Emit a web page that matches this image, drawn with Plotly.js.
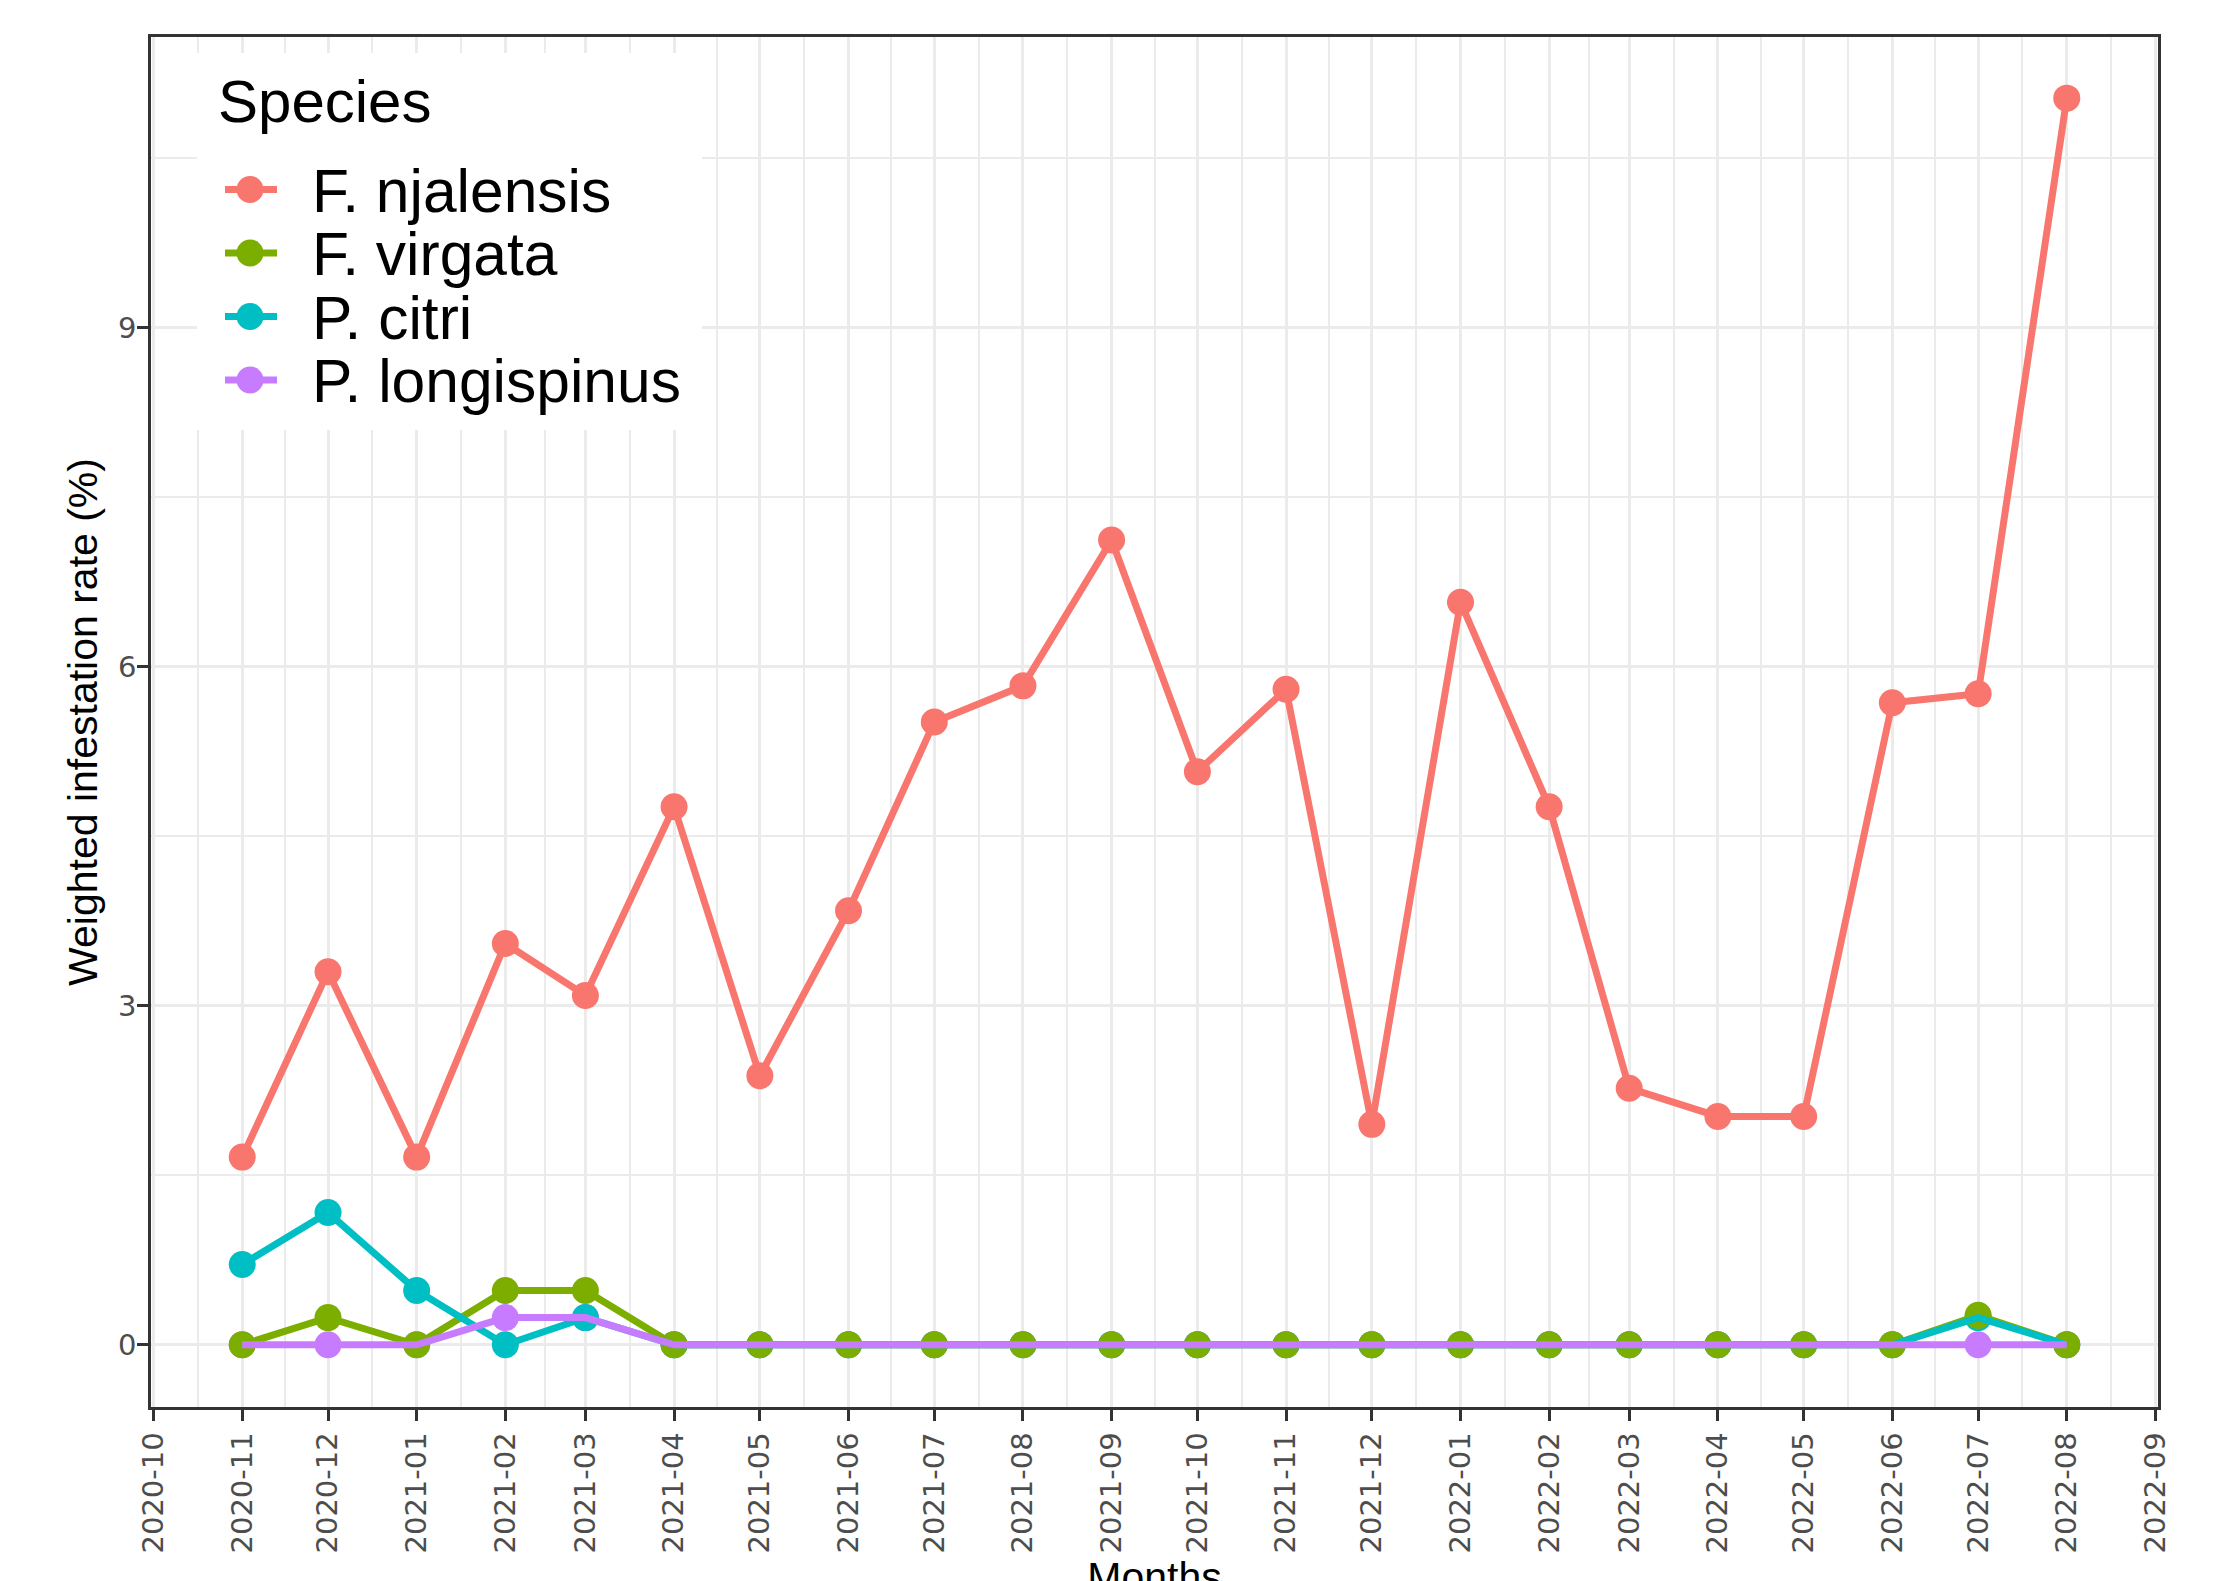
<!DOCTYPE html>
<html>
<head>
<meta charset="utf-8">
<script src="https://cdn.plot.ly/plotly-3.0.1.min.js"></script>
<style>
html, body { margin: 0; padding: 0; background: #ffffff; overflow: hidden; }
#frame { width: 2213px; height: 1581px; overflow: hidden; position: relative; }
#chart { width: 2213px; height: 1620px; }
</style>
</head>
<body>
<div id="frame"><div id="chart"></div></div>
<script>
// ---------------- data ----------------
const months = ['2020-11-01','2020-12-01','2021-01-01','2021-02-01','2021-03-01','2021-04-01',
  '2021-05-01','2021-06-01','2021-07-01','2021-08-01','2021-09-01','2021-10-01','2021-11-01',
  '2021-12-01','2022-01-01','2022-02-01','2022-03-01','2022-04-01','2022-05-01','2022-06-01',
  '2022-07-01','2022-08-01'];
const speciesNames = ['F. njalensis', 'F. virgata', 'P. citri', 'P. longispinus'];
const speciesColors = ['#F8766D', '#7CAE00', '#00BFC4', '#C77CFF'];
const njalensis   = [1.66, 3.30, 1.66, 3.55, 3.09, 4.76, 2.38, 3.84, 5.51, 5.83, 7.12, 5.07, 5.80,
                     1.95, 6.57, 4.76, 2.27, 2.02, 2.02, 5.68, 5.76, 11.03];
const virgata     = [0, 0.24, 0, 0.48, 0.48, 0, 0, 0, 0, 0, 0, 0, 0,
                     0, 0, 0, 0, 0, 0, 0, 0.26, 0];
const citri       = [0.71, 1.17, 0.48, 0, 0.24, 0, 0, 0, 0, 0, 0, 0, 0,
                     0, 0, 0, 0, 0, 0, 0, 0.24, 0];
const longispinus = [0, 0, 0, 0.24, 0.24, 0, 0, 0, 0, 0, 0, 0, 0,
                     0, 0, 0, 0, 0, 0, 0, 0, 0];
const yTickVals = [0, 3, 6, 9];
const yMinorVals = [1.5, 4.5, 7.5, 10.5];
const legendTitle = 'Species';
const xTitle = 'Months';
const yTitle = 'Weighted infestation rate (%)';

// ---------------- geometry ----------------
// figure is drawn slightly taller than the window so that the x-axis title sits at the bottom edge as in the original
const W = 2213, H = 1620;
const M = { l: 151, r: 55, t: 37, b: H - 1407 };
const PW = W - M.l - M.r, PH = H - M.t - M.b;
const px = v => (v - M.l) / PW;          // pixel x -> paper
const py = v => 1 - (v - M.t) / PH;      // pixel y -> paper

const FONT = "'Liberation Sans', Arial, Helvetica, sans-serif";
const TICKFONT = "'DejaVu Sans', Verdana, sans-serif";
const series = [njalensis, virgata, citri, longispinus];

// month grid (major at month starts, minor at midpoints)
const gridMonths = [];
for (let y = 2020, m = 9; !(y === 2022 && m === 9); ) {
  gridMonths.push(Date.UTC(y, m, 1));
  m++; if (m === 12) { m = 0; y++; }
}
gridMonths.push(Date.UTC(2022, 8, 1));
const fmt = t => new Date(t).toISOString().slice(0, 19).replace('T', ' ');
const xMinorVals = [];
for (let i = 0; i < gridMonths.length - 1; i++) xMinorVals.push(fmt((gridMonths[i] + gridMonths[i + 1]) / 2));

// ---------------- traces ----------------
const traces = [];
// markers first (virgata last so it sits on top of the other zero markers)
[0, 3, 2, 1].forEach(i => traces.push({
  type: 'scatter', mode: 'markers', x: months, y: series[i], name: speciesNames[i],
  marker: { color: speciesColors[i], size: 27, line: { width: 0 } },
  showlegend: false, hoverinfo: 'x+y+name'
}));
// lines above markers
[0, 1, 2, 3].forEach(i => traces.push({
  type: 'scatter', mode: 'lines', x: months, y: series[i], name: speciesNames[i],
  line: { color: speciesColors[i], width: 7 },
  showlegend: false, hoverinfo: 'skip'
}));

// ---------------- custom legend ----------------
const shapes = [{
  type: 'rect', xref: 'paper', yref: 'paper', layer: 'above',
  x0: px(197), x1: px(702), y0: py(53), y1: py(430),
  fillcolor: '#ffffff', line: { width: 0 }
}];
const annotations = [{
  xref: 'paper', yref: 'paper', x: px(216), y: py(101), xanchor: 'left', yanchor: 'middle',
  text: legendTitle, showarrow: false, font: { family: FONT, size: 60, color: '#000000' }
}];
speciesNames.forEach((name, i) => {
  const cy = 189.5 + i * 63.5;
  shapes.push({
    type: 'line', xref: 'paper', yref: 'paper', layer: 'above',
    x0: px(225), x1: px(277), y0: py(cy), y1: py(cy),
    line: { color: speciesColors[i], width: 7 }
  });
  shapes.push({
    type: 'circle', xref: 'paper', yref: 'paper', layer: 'above',
    x0: px(250 - 13.5), x1: px(250 + 13.5), y0: py(cy - 13.5), y1: py(cy + 13.5),
    fillcolor: speciesColors[i], line: { width: 0 }
  });
  annotations.push({
    xref: 'paper', yref: 'paper', x: px(310), y: py(cy + 1), xanchor: 'left', yanchor: 'middle',
    text: name, showarrow: false, font: { family: FONT, size: 60.5, color: '#000000' }
  });
});

// ---------------- layout ----------------
const layout = {
  width: W, height: H,
  margin: M,
  paper_bgcolor: '#ffffff', plot_bgcolor: '#ffffff',
  showlegend: false,
  font: { family: FONT, color: '#000000' },
  xaxis: {
    type: 'date',
    range: ['2020-09-30 02:24', '2022-09-01 21:36'],
    tick0: '2020-10-01', dtick: 'M1', tickformat: '%Y-%m',
    tickangle: -90,
    tickfont: { family: TICKFONT, size: 29, color: '#4D4D4D' },
    ticks: 'outside', ticklen: 11, tickwidth: 2.5, tickcolor: '#333333',
    showgrid: true, gridcolor: '#EBEBEB', gridwidth: 3,
    minor: { tickmode: 'array', tickvals: xMinorVals, showgrid: true, gridcolor: '#EBEBEB', gridwidth: 1.8, ticks: '' },
    showline: true, linecolor: '#333333', linewidth: 2.5, mirror: true,
    zeroline: false, automargin: false,
    title: { text: xTitle, font: { family: FONT, size: 41, color: '#000000' }, standoff: 2 }
  },
  yaxis: {
    range: [-0.551, 11.571],
    tickmode: 'array', tickvals: yTickVals,
    tickfont: { family: TICKFONT, size: 29, color: '#4D4D4D' },
    ticks: 'outside', ticklen: 11, tickwidth: 2.5, tickcolor: '#333333',
    ticklabelstandoff: -5,
    showgrid: true, gridcolor: '#EBEBEB', gridwidth: 3,
    minor: { tickmode: 'array', tickvals: yMinorVals, showgrid: true, gridcolor: '#EBEBEB', gridwidth: 1.8, ticks: '' },
    showline: true, linecolor: '#333333', linewidth: 2.5, mirror: true,
    zeroline: false, automargin: false,
    title: { text: yTitle, font: { family: FONT, size: 41, color: '#000000' }, standoff: 8 }
  },
  shapes: shapes,
  annotations: annotations
};

Plotly.newPlot('chart', traces, layout, { displayModeBar: false, responsive: false });
</script>
</body>
</html>
